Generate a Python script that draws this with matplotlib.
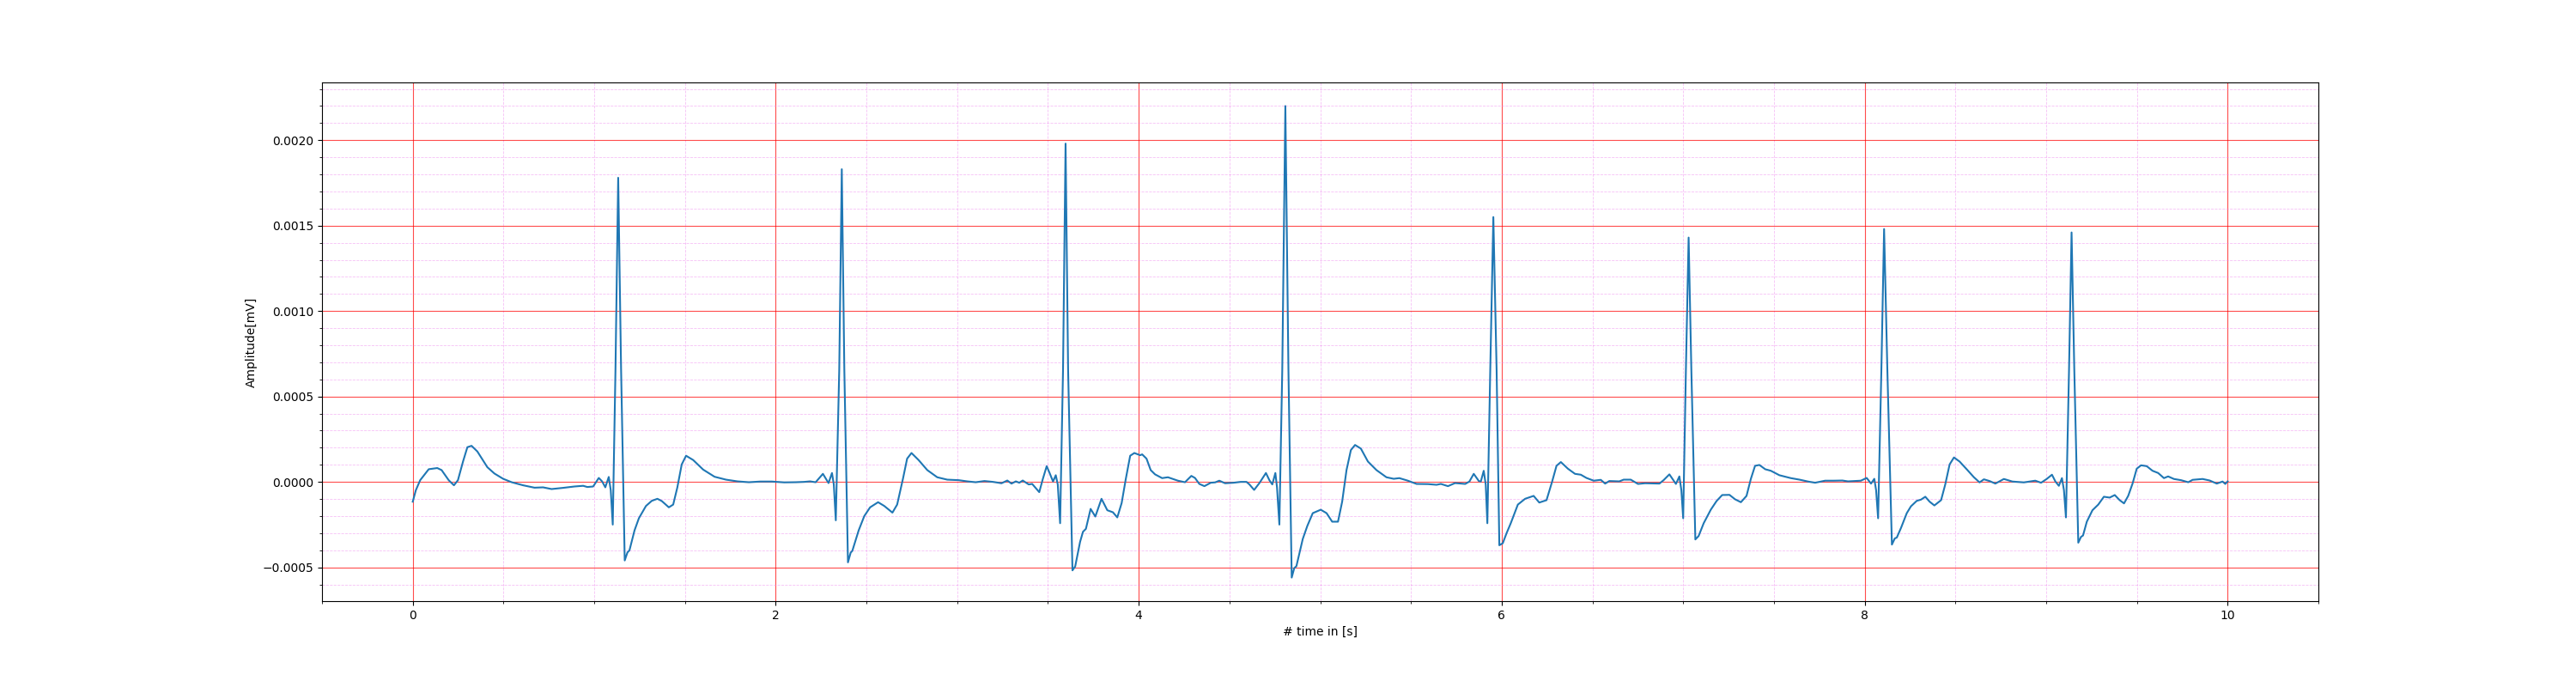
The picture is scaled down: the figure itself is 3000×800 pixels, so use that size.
import numpy as np
import matplotlib
matplotlib.use("Agg")
import matplotlib.pyplot as plt

# amplitudes are given in units of 1e-4 mV
AMP_UNIT = 1e-4

t_a = [0.000, 0.017, 0.041, 0.088, 0.135, 0.159, 0.198, 0.227, 0.249, 0.277, 0.301, 0.324, 0.356, 0.411,
       0.450, 0.498, 0.545, 0.608, 0.671, 0.718, 0.765, 0.828, 0.891, 0.939, 0.962, 0.994, 1.025, 1.044,
       1.061, 1.080, 1.091, 1.102, 1.117, 1.132, 1.148, 1.168, 1.183, 1.194, 1.222, 1.246, 1.285, 1.317,
       1.348, 1.372, 1.411, 1.435, 1.458, 1.482, 1.506, 1.545, 1.600, 1.663, 1.726, 1.789, 1.852, 1.915, 1.978]
v_a = [-1.16, -0.49, 0.10, 0.74, 0.81, 0.69, 0.10, -0.20, 0.10, 1.19, 2.03, 2.11, 1.78, 0.86,
       0.49, 0.18, -0.02, -0.20, -0.34, -0.32, -0.42, -0.35, -0.27, -0.23, -0.30, -0.27, 0.23, 0.02,
       -0.32, 0.29, -0.49, -2.50, 6.56, 17.8, 6.56, -4.60, -4.13, -4.01, -2.84, -2.13, -1.41, -1.11,
       -0.99, -1.12, -1.49, -1.33, -0.32, 1.02, 1.53, 1.28, 0.72, 0.30, 0.13, 0.03, -0.02, 0.02, 0.02]

t_b = [2.047, 2.110, 2.157, 2.189, 2.220, 2.260, 2.291, 2.310, 2.320, 2.331, 2.350, 2.364, 2.378, 2.398,
       2.413, 2.422, 2.457, 2.488, 2.520, 2.564, 2.598, 2.643, 2.669, 2.701, 2.724, 2.748, 2.787, 2.835,
       2.890, 2.945, 3.008, 3.055, 3.102, 3.150, 3.197, 3.244, 3.276, 3.299, 3.323, 3.342, 3.361, 3.394,
       3.413, 3.452, 3.472, 3.493, 3.509, 3.528, 3.543, 3.554, 3.567, 3.583, 3.597, 3.611, 3.635, 3.650,
       3.677, 3.693, 3.709, 3.735, 3.761, 3.795, 3.827, 3.858, 3.882, 3.906, 3.929, 3.953, 3.976, 4.008]
v_b = [-0.03, -0.02, 0.00, 0.03, -0.02, 0.47, -0.07, 0.52, -0.15, -2.25, 6.56, 18.3, 6.56, -4.71,
       -4.14, -4.04, -2.84, -2.00, -1.49, -1.19, -1.41, -1.80, -1.33, 0.18, 1.36, 1.69, 1.28, 0.69,
       0.27, 0.13, 0.10, 0.03, -0.02, 0.05, 0.00, -0.08, 0.08, -0.10, 0.03, -0.05, 0.08, -0.15,
       -0.12, -0.60, 0.18, 0.92, 0.52, 0.02, 0.39, -0.15, -2.42, 6.56, 19.8, 6.56, -5.18, -4.95,
       -3.51, -2.92, -2.75, -1.58, -2.03, -0.99, -1.66, -1.78, -2.08, -1.24, 0.18, 1.53, 1.69, 1.56]

t_c = [4.019, 4.043, 4.066, 4.090, 4.129, 4.161, 4.216, 4.255, 4.290, 4.310, 4.334, 4.362, 4.397, 4.421,
       4.444, 4.476, 4.523, 4.562, 4.594, 4.610, 4.636, 4.665, 4.701, 4.720, 4.736, 4.753, 4.762, 4.775,
       4.791, 4.808, 4.825, 4.843, 4.857, 4.869, 4.904, 4.929, 4.959, 5.003, 5.035, 5.066, 5.098, 5.121,
       5.145, 5.169, 5.192, 5.224, 5.263, 5.310, 5.365, 5.405, 5.436, 5.483, 5.531, 5.594, 5.641, 5.665,
       5.704, 5.743, 5.799, 5.822, 5.846, 5.874, 5.885, 5.901, 5.912, 5.921, 5.937, 5.954, 5.972, 5.987,
       6.006, 6.027]
v_c = [1.61, 1.36, 0.69, 0.44, 0.22, 0.27, 0.07, -0.02, 0.35, 0.23, -0.12, -0.25, -0.05, -0.03,
       0.07, -0.08, -0.05, 0.00, 0.00, -0.15, -0.47, -0.07, 0.52, 0.10, -0.15, 0.52, -0.32, -2.50,
       6.56, 22.0, 6.56, -5.60, -5.05, -4.93, -3.34, -2.58, -1.83, -1.63, -1.83, -2.33, -2.33, -1.16,
       0.69, 1.86, 2.16, 1.95, 1.19, 0.69, 0.27, 0.18, 0.22, 0.07, -0.12, -0.13, -0.17, -0.12,
       -0.25, -0.07, -0.12, 0.02, 0.47, 0.05, 0.02, 0.65, -0.15, -2.42, 6.56, 15.5, 6.56, -3.71,
       -3.59, -3.00]

t_d = [6.050, 6.089, 6.129, 6.176, 6.207, 6.247, 6.278, 6.302, 6.326, 6.365, 6.404, 6.436, 6.467, 6.507,
       6.546, 6.570, 6.593, 6.648, 6.672, 6.711, 6.751, 6.790, 6.869, 6.892, 6.924, 6.960, 6.979, 6.990,
       7.000, 7.015, 7.030, 7.045, 7.067, 7.085, 7.113, 7.152, 7.184, 7.215, 7.255, 7.286, 7.318, 7.349,
       7.373, 7.396, 7.420, 7.452, 7.483, 7.530, 7.593, 7.641, 7.688, 7.727, 7.782, 7.830, 7.877, 7.908,
       7.979, 8.011, 8.035, 8.053, 8.063, 8.074]
v_d = [-2.42, -1.33, -0.99, -0.82, -1.21, -1.07, 0.02, 0.94, 1.16, 0.77, 0.47, 0.42, 0.23, 0.07,
       0.12, -0.10, 0.05, 0.03, 0.13, 0.13, -0.12, -0.08, -0.10, 0.10, 0.44, -0.12, 0.32, -0.49,
       -2.13, 6.56, 14.3, 6.56, -3.37, -3.17, -2.42, -1.63, -1.12, -0.77, -0.76, -1.02, -1.19, -0.82,
       0.18, 0.94, 0.99, 0.74, 0.65, 0.39, 0.22, 0.13, 0.02, -0.05, 0.07, 0.07, 0.08, 0.03,
       0.07, 0.23, -0.10, 0.18, -0.49, -2.13]

t_e = [8.092, 8.107, 8.125, 8.150, 8.166, 8.177, 8.200, 8.232, 8.255, 8.287, 8.310, 8.334, 8.358, 8.384,
       8.421, 8.444, 8.468, 8.492, 8.523, 8.562, 8.602, 8.633, 8.657, 8.688, 8.720, 8.767, 8.814, 8.877,
       8.940, 8.972, 9.003, 9.032, 9.051, 9.070, 9.087, 9.098, 9.109, 9.126, 9.140, 9.155, 9.177, 9.192,
       9.203, 9.224, 9.255, 9.287, 9.318, 9.350, 9.378, 9.405, 9.429, 9.452, 9.476, 9.499, 9.523, 9.554,
       9.586, 9.617, 9.649, 9.672, 9.704, 9.743, 9.783, 9.807, 9.862, 9.901, 9.940, 9.972, 9.987, 10.000]
v_e = [6.56, 14.8, 6.56, -3.67, -3.31, -3.26, -2.70, -1.83, -1.43, -1.11, -1.04, -0.87, -1.16, -1.38,
       -1.07, -0.15, 1.02, 1.43, 1.19, 0.74, 0.27, -0.03, 0.15, 0.05, -0.10, 0.17, 0.02, -0.03,
       0.07, -0.05, 0.17, 0.42, 0.02, -0.23, 0.22, -0.49, -2.08, 6.56, 14.6, 6.56, -3.56, -3.22,
       -3.14, -2.33, -1.66, -1.33, -0.87, -0.92, -0.77, -1.07, -1.26, -0.82, -0.10, 0.77, 0.97, 0.92,
       0.65, 0.52, 0.22, 0.32, 0.17, 0.10, -0.02, 0.12, 0.17, 0.08, -0.10, 0.02, -0.12, 0.03]

time_s = np.concatenate([t_a, t_b, t_c, t_d, t_e])
amplitude = np.concatenate([v_a, v_b, v_c, v_d, v_e]) * AMP_UNIT

fig, ax = plt.subplots(figsize=(30, 8), dpi=100)
fig.subplots_adjust(left=0.125, right=0.9, top=0.88, bottom=0.125)
ax.plot(time_s, amplitude, color="#1f77b4", linewidth=1.5)
ax.minorticks_on()
ax.grid(which="major", color="red", linestyle="-", linewidth=0.8, alpha=0.7)
ax.grid(which="minor", color="violet", linestyle="--", linewidth=0.6, alpha=0.5)
ax.set_xlabel("# time in [s]")
ax.set_ylabel("Amplitude[mV]")
fig.savefig("out.png", dpi=100)
